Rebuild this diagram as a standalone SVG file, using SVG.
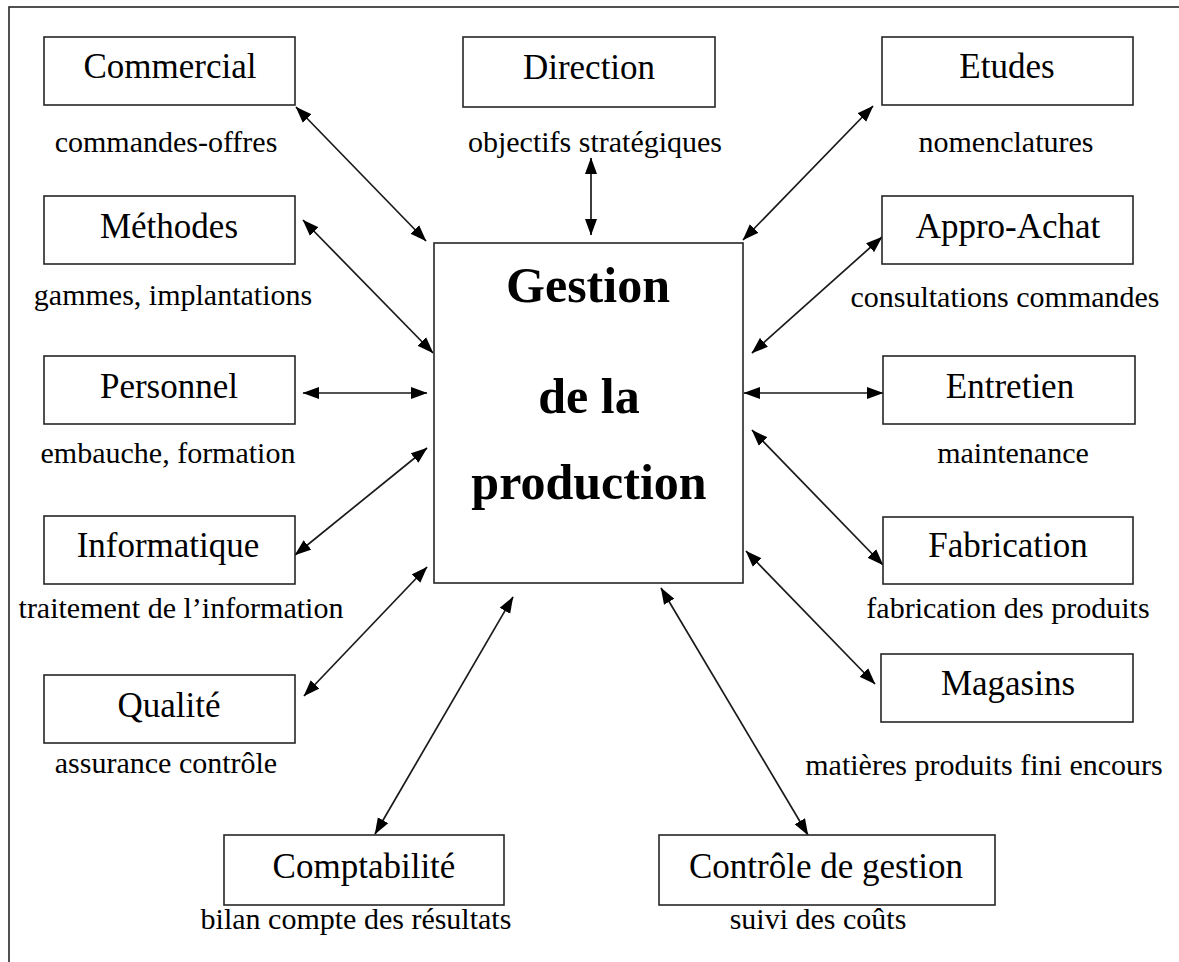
<svg xmlns="http://www.w3.org/2000/svg" width="1179" height="962" viewBox="0 0 1179 962">
<style>
.box{fill:#fff;stroke:#262626;stroke-width:1.6}
.lbl{font-family:"Liberation Serif","Times New Roman",serif;font-size:35px;fill:#000;text-anchor:middle}
.sub{font-family:"Liberation Serif","Times New Roman",serif;font-size:30px;fill:#000;text-anchor:middle}
.big{font-family:"Liberation Serif","Times New Roman",serif;font-size:50px;font-weight:bold;fill:#000;text-anchor:middle}
.arr{stroke:#1a1a1a;stroke-width:1.7;fill:none;marker-start:url(#ah);marker-end:url(#ah)}
</style>
<defs>
<marker id="ah" markerUnits="userSpaceOnUse" markerWidth="17" markerHeight="13" refX="16" refY="6.5" orient="auto-start-reverse" viewBox="0 0 17 13">
<path d="M0,0.5 L16.5,6.5 L0,12.5 z" fill="#000"/>
</marker>
</defs>
<rect x="0" y="0" width="1179" height="962" fill="#fff"/>
<rect x="9" y="7" width="1190" height="980" fill="none" stroke="#262626" stroke-width="1.6"/>

<g id="connectors">
<line class="arr" x1="296" y1="107" x2="426" y2="241"/>
<line class="arr" x1="591" y1="158" x2="591" y2="235"/>
<line class="arr" x1="873" y1="106" x2="743" y2="240"/>
<line class="arr" x1="303" y1="220" x2="433" y2="353"/>
<line class="arr" x1="882" y1="237" x2="752" y2="353"/>
<line class="arr" x1="303" y1="393" x2="427" y2="393"/>
<line class="arr" x1="744" y1="393" x2="883" y2="393"/>
<line class="arr" x1="295" y1="555" x2="427" y2="448"/>
<line class="arr" x1="752" y1="430" x2="883" y2="565"/>
<line class="arr" x1="304" y1="696" x2="427" y2="567"/>
<line class="arr" x1="746" y1="551" x2="875" y2="684"/>
<line class="arr" x1="375" y1="834" x2="513" y2="597"/>
<line class="arr" x1="808" y1="835" x2="661" y2="588"/>
</g>

<g id="center">
<rect class="box" x="434" y="243" width="309" height="340"/>
<text class="big" x="588" y="302">Gestion</text>
<text class="big" x="589" y="413">de la</text>
<text class="big" x="589" y="499">production</text>
</g>

<g id="commercial">
<rect class="box" x="44" y="37" width="251" height="68"/>
<text class="lbl" x="170" y="78">Commercial</text>
<text class="sub" x="166" y="152">commandes-offres</text>
</g>
<g id="direction">
<rect class="box" x="463" y="37" width="252" height="70"/>
<text class="lbl" x="589" y="79">Direction</text>
<text class="sub" x="595" y="152">objectifs stratégiques</text>
</g>
<g id="etudes">
<rect class="box" x="882" y="37" width="251" height="68"/>
<text class="lbl" x="1007" y="78">Etudes</text>
<text class="sub" x="1006" y="152">nomenclatures</text>
</g>
<g id="methodes">
<rect class="box" x="44" y="196" width="251" height="68"/>
<text class="lbl" x="169" y="238">Méthodes</text>
<text class="sub" x="173" y="305">gammes, implantations</text>
</g>
<g id="appro">
<rect class="box" x="882" y="196" width="251" height="68"/>
<text class="lbl" x="1008" y="238">Appro-Achat</text>
<text class="sub" x="1005" y="307">consultations commandes</text>
</g>
<g id="personnel">
<rect class="box" x="44" y="356" width="251" height="68"/>
<text class="lbl" x="169" y="398">Personnel</text>
<text class="sub" x="168" y="463">embauche, formation</text>
</g>
<g id="entretien">
<rect class="box" x="883" y="356" width="252" height="68"/>
<text class="lbl" x="1010" y="398">Entretien</text>
<text class="sub" x="1013" y="463">maintenance</text>
</g>
<g id="informatique">
<rect class="box" x="44" y="516" width="251" height="68"/>
<text class="lbl" x="168" y="557">Informatique</text>
<text class="sub" x="181" y="618">traitement de l’information</text>
</g>
<g id="fabrication">
<rect class="box" x="883" y="517" width="250" height="67"/>
<text class="lbl" x="1008" y="557">Fabrication</text>
<text class="sub" x="1008" y="618">fabrication des produits</text>
</g>
<g id="qualite">
<rect class="box" x="44" y="675" width="251" height="68"/>
<text class="lbl" x="169" y="717">Qualité</text>
<text class="sub" x="166" y="773">assurance contrôle</text>
</g>
<g id="magasins">
<rect class="box" x="881" y="654" width="252" height="68"/>
<text class="lbl" x="1008" y="695">Magasins</text>
<text class="sub" x="984" y="775">matières produits fini encours</text>
</g>
<g id="comptabilite">
<rect class="box" x="224" y="835" width="280" height="70"/>
<text class="lbl" x="364" y="878">Comptabilité</text>
<text class="sub" x="356" y="929">bilan compte des résultats</text>
</g>
<g id="controle">
<rect class="box" x="659" y="835" width="336" height="70"/>
<text class="lbl" x="826" y="878">Contrôle de gestion</text>
<text class="sub" x="818" y="929">suivi des coûts</text>
</g>
</svg>
